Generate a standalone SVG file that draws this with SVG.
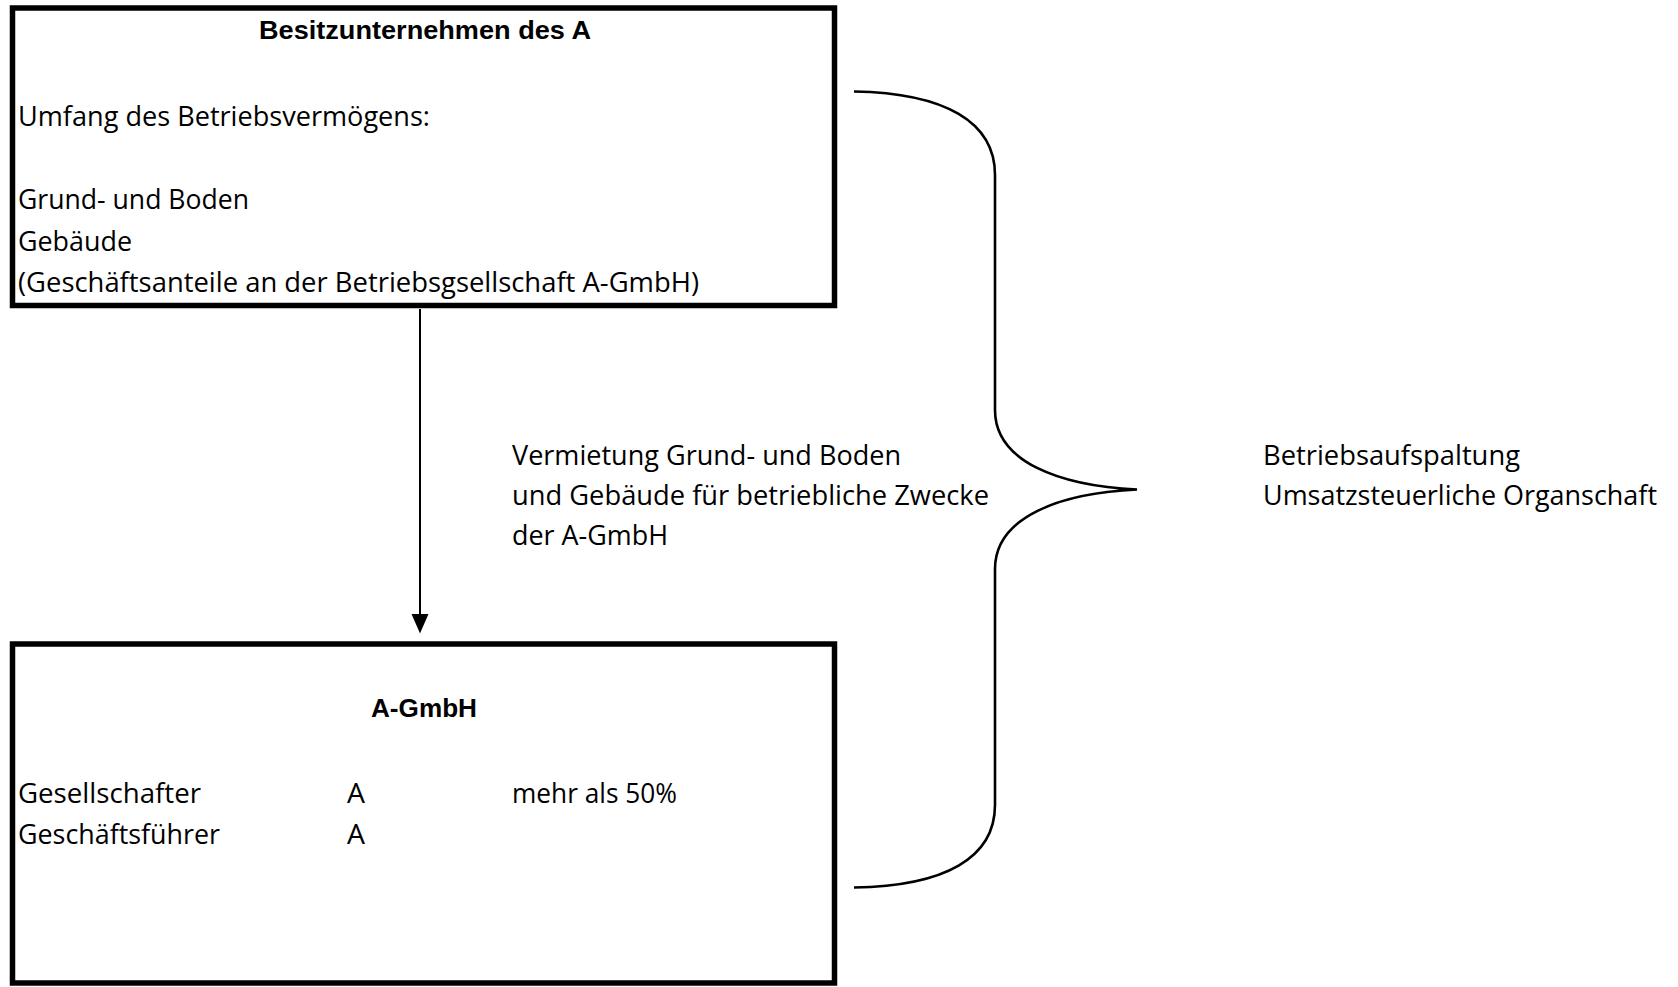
<svg xmlns="http://www.w3.org/2000/svg" width="1678" height="987" viewBox="0 0 1678 987">
<style>
.box{fill:#fff;stroke:#000;stroke-width:5.5}
.t{font-family:"Open Sans","Liberation Sans",sans-serif;font-size:28px;fill:#000}
.m{font-family:"Open Sans","Liberation Sans",sans-serif;font-size:27px;fill:#000}
.b{font-family:"Liberation Sans",Arial,sans-serif;font-size:25px;font-weight:bold;fill:#000}
.ln{fill:none;stroke:#000;stroke-width:2}
.br{fill:none;stroke:#000;stroke-width:2.6}
</style>
<rect width="1678" height="987" fill="#fff"/>
<g id="besitzunternehmen">
<rect class="box" x="12.5" y="8" width="822" height="297.5"/>
<text class="b" x="259" y="39" textLength="332" lengthAdjust="spacingAndGlyphs">Besitzunternehmen des A</text>
<text class="t" x="18" y="126" textLength="412" lengthAdjust="spacingAndGlyphs">Umfang des Betriebsvermögens:</text>
<text class="t" x="18" y="209" textLength="231" lengthAdjust="spacingAndGlyphs">Grund- und Boden</text>
<text class="t" x="18" y="251" textLength="114" lengthAdjust="spacingAndGlyphs">Gebäude</text>
<text class="t" x="18" y="292" textLength="681" lengthAdjust="spacingAndGlyphs">(Geschäftsanteile an der Betriebsgsellschaft A-GmbH)</text>
</g>
<g id="a-gmbh">
<rect class="box" x="12.5" y="644" width="822" height="339"/>
<text class="b" x="371" y="717" textLength="106" lengthAdjust="spacingAndGlyphs">A-GmbH</text>
<text class="t" x="18" y="803" textLength="183" lengthAdjust="spacingAndGlyphs">Gesellschafter</text>
<text class="t" x="347" y="803" textLength="18" lengthAdjust="spacingAndGlyphs">A</text>
<text class="t" x="512" y="803" textLength="165" lengthAdjust="spacingAndGlyphs">mehr als 50%</text>
<text class="t" x="18" y="844" textLength="202" lengthAdjust="spacingAndGlyphs">Geschäftsführer</text>
<text class="t" x="347" y="844" textLength="18" lengthAdjust="spacingAndGlyphs">A</text>
</g>
<g id="connectors">
<line class="ln" x1="420" y1="309" x2="420" y2="616"/>
<polygon points="411.5,614 428.5,614 420,633.5" fill="#000"/>
<path class="br" d="M854,91.5 C945,93 995,122 995,175 L995,410 C995,462 1060,486 1137,489.5 C1060,493 995,517 995,569 L995,805 C995,858 945,886 854,887.5"/>
</g>
<g id="vermietung-label">
<text class="m" x="512" y="465" textLength="389" lengthAdjust="spacingAndGlyphs">Vermietung Grund- und Boden</text>
<text class="m" x="512" y="505" textLength="477" lengthAdjust="spacingAndGlyphs">und Gebäude für betriebliche Zwecke</text>
<text class="m" x="512" y="545" textLength="156" lengthAdjust="spacingAndGlyphs">der A-GmbH</text>
</g>
<g id="betriebsaufspaltung-label">
<text class="m" x="1263" y="465" textLength="257" lengthAdjust="spacingAndGlyphs">Betriebsaufspaltung</text>
<text class="m" x="1263" y="505" textLength="394" lengthAdjust="spacingAndGlyphs">Umsatzsteuerliche Organschaft</text>
</g>
</svg>
